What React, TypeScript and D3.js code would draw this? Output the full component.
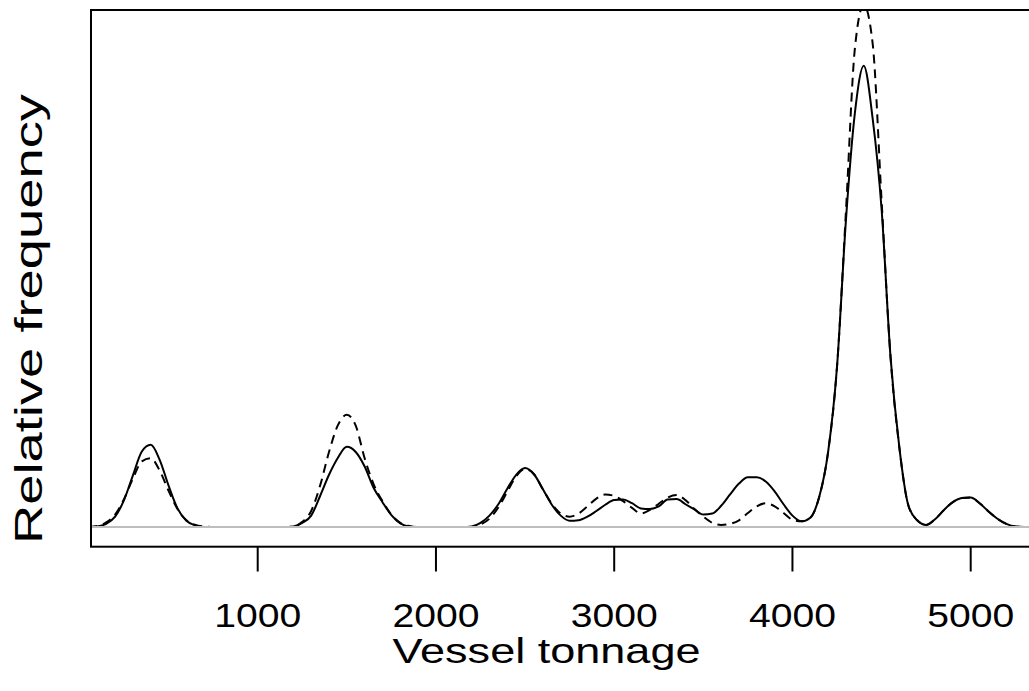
import React from "react";
import * as d3 from "d3";

const tonnage = [
  50, 100, 150, 200, 250, 300, 350, 400, 450, 500,
  550, 600, 650, 700, 750, 800, 850, 900, 950, 1000,
  1050, 1100, 1150, 1200, 1250, 1300, 1350, 1400, 1450, 1500,
  1550, 1600, 1650, 1700, 1750, 1800, 1850, 1900, 1950, 2000,
  2050, 2100, 2150, 2200, 2250, 2300, 2350, 2400, 2450, 2500,
  2550, 2600, 2650, 2700, 2750, 2800, 2850, 2900, 2950, 3000,
  3050, 3100, 3150, 3200, 3250, 3300, 3350, 3400, 3450, 3500,
  3550, 3600, 3650, 3700, 3750, 3800, 3850, 3900, 3950, 4000,
  4050, 4100, 4150, 4200, 4250, 4300, 4350, 4400, 4450, 4500,
  4550, 4600, 4650, 4700, 4750, 4800, 4850, 4900, 4950, 5000,
  5050, 5100, 5150, 5200, 5250, 5300,
];

const solidFreq = [
  0, 0.001, 0.006, 0.02, 0.052, 0.1, 0.146, 0.159, 0.13, 0.08,
  0.036, 0.012, 0.003, 0, 0, 0, 0, 0, 0, 0,
  0, 0, 0, 0.001, 0.008, 0.022, 0.06, 0.101, 0.134, 0.155,
  0.145, 0.117, 0.076, 0.048, 0.023, 0.007, 0.001, 0, 0, 0,
  0, 0, 0, 0.001, 0.008, 0.022, 0.044, 0.074, 0.101, 0.114,
  0.102, 0.073, 0.043, 0.022, 0.012, 0.013, 0.02, 0.031, 0.043, 0.052,
  0.053, 0.046, 0.036, 0.035, 0.04, 0.053, 0.054, 0.044, 0.034, 0.024,
  0.026, 0.041, 0.063, 0.084, 0.096, 0.096, 0.088, 0.069, 0.044, 0.022,
  0.011, 0.018, 0.058, 0.145, 0.31, 0.593, 0.8, 0.892, 0.79, 0.615,
  0.33, 0.153, 0.042, 0.013, 0.004, 0.015, 0.033, 0.048, 0.056, 0.057,
  0.046, 0.03, 0.016, 0.006, 0.001, 0,
];

const dashedFreq = [
  0, 0.002, 0.009, 0.024, 0.054, 0.094, 0.127, 0.133, 0.109, 0.07,
  0.035, 0.013, 0.004, 0.001, 0, 0, 0, 0, 0, 0,
  0, 0, 0, 0.001, 0.01, 0.031, 0.08, 0.145, 0.197, 0.217,
  0.196, 0.133, 0.083, 0.05, 0.024, 0.008, 0.002, 0, 0, 0,
  0, 0, 0, 0, 0.005, 0.016, 0.038, 0.068, 0.098, 0.112,
  0.102, 0.073, 0.045, 0.026, 0.02, 0.026, 0.04, 0.055, 0.063, 0.06,
  0.05, 0.037, 0.026, 0.033, 0.045, 0.057, 0.062, 0.052, 0.035, 0.02,
  0.008, 0.004, 0.006, 0.013, 0.027, 0.04, 0.046, 0.04, 0.027, 0.014,
  0.011, 0.018, 0.058, 0.145, 0.31, 0.61, 0.925, 1.01, 0.935, 0.632,
  0.33, 0.153, 0.042, 0.013, 0.004, 0.015, 0.033, 0.048, 0.056, 0.057,
  0.046, 0.03, 0.016, 0.006, 0.001, 0,
];

const xTicks = [1000, 2000, 3000, 4000, 5000];
const xLabel = "Vessel tonnage";
const yLabel = "Relative frequency";

export default function App() {
  const W = 1029;
  const H = 691;
  const boxLeft = 91;
  const boxTop = 10;
  const boxBottom = 546.7;
  const boxRight = 1060;

  const x = d3.scaleLinear().domain([0, 5000]).range([79.45, 970.7]);
  const y = d3.scaleLinear().domain([0, 1]).range([527, 10]);

  const line = d3
    .line<number>()
    .x((_, i) => x(tonnage[i]))
    .y((d) => y(d))
    .curve(d3.curveMonotoneX);

  const font = "Arial, 'Liberation Sans', Helvetica, sans-serif";

  return (
    <svg
      width={W}
      height={H}
      style={{ position: "absolute", left: 0, top: 0, background: "#fff" }}
    >
      <defs>
        <clipPath id="plotclip">
          <rect x={boxLeft} y={boxTop} width={boxRight - boxLeft} height={boxBottom - boxTop} />
        </clipPath>
      </defs>
      <g clipPath="url(#plotclip)">
        <path d={line(solidFreq) || ""} fill="none" stroke="#000" strokeWidth={2} />
        <path
          d={line(dashedFreq) || ""}
          fill="none"
          stroke="#000"
          strokeWidth={2}
          strokeDasharray="9,6"
        />
        <line x1={boxLeft} x2={boxRight} y1={y(0)} y2={y(0)} stroke="#bebebe" strokeWidth={2} />
      </g>
      <rect
        x={boxLeft}
        y={boxTop}
        width={boxRight - boxLeft}
        height={boxBottom - boxTop}
        fill="none"
        stroke="#000"
        strokeWidth={2}
      />
      {xTicks.map((t) => (
        <g key={t}>
          <line x1={x(t)} x2={x(t)} y1={boxBottom} y2={571.5} stroke="#000" strokeWidth={2} />
          <text
            x={x(t)}
            y={627}
            textAnchor="middle"
            fontFamily={font}
            fontSize={34}
            textLength={87}
            lengthAdjust="spacingAndGlyphs"
            fill="#000"
          >
            {t}
          </text>
        </g>
      ))}
      <text
        x={546.5}
        y={663}
        textAnchor="middle"
        fontFamily={font}
        fontSize={35}
        textLength={308}
        lengthAdjust="spacingAndGlyphs"
        fill="#000"
      >
        {xLabel}
      </text>
      <text
        transform={`translate(42,319) rotate(-90)`}
        textAnchor="middle"
        fontFamily={font}
        fontSize={39}
        textLength={450}
        lengthAdjust="spacingAndGlyphs"
        fill="#000"
      >
        {yLabel}
      </text>
    </svg>
  );
}
